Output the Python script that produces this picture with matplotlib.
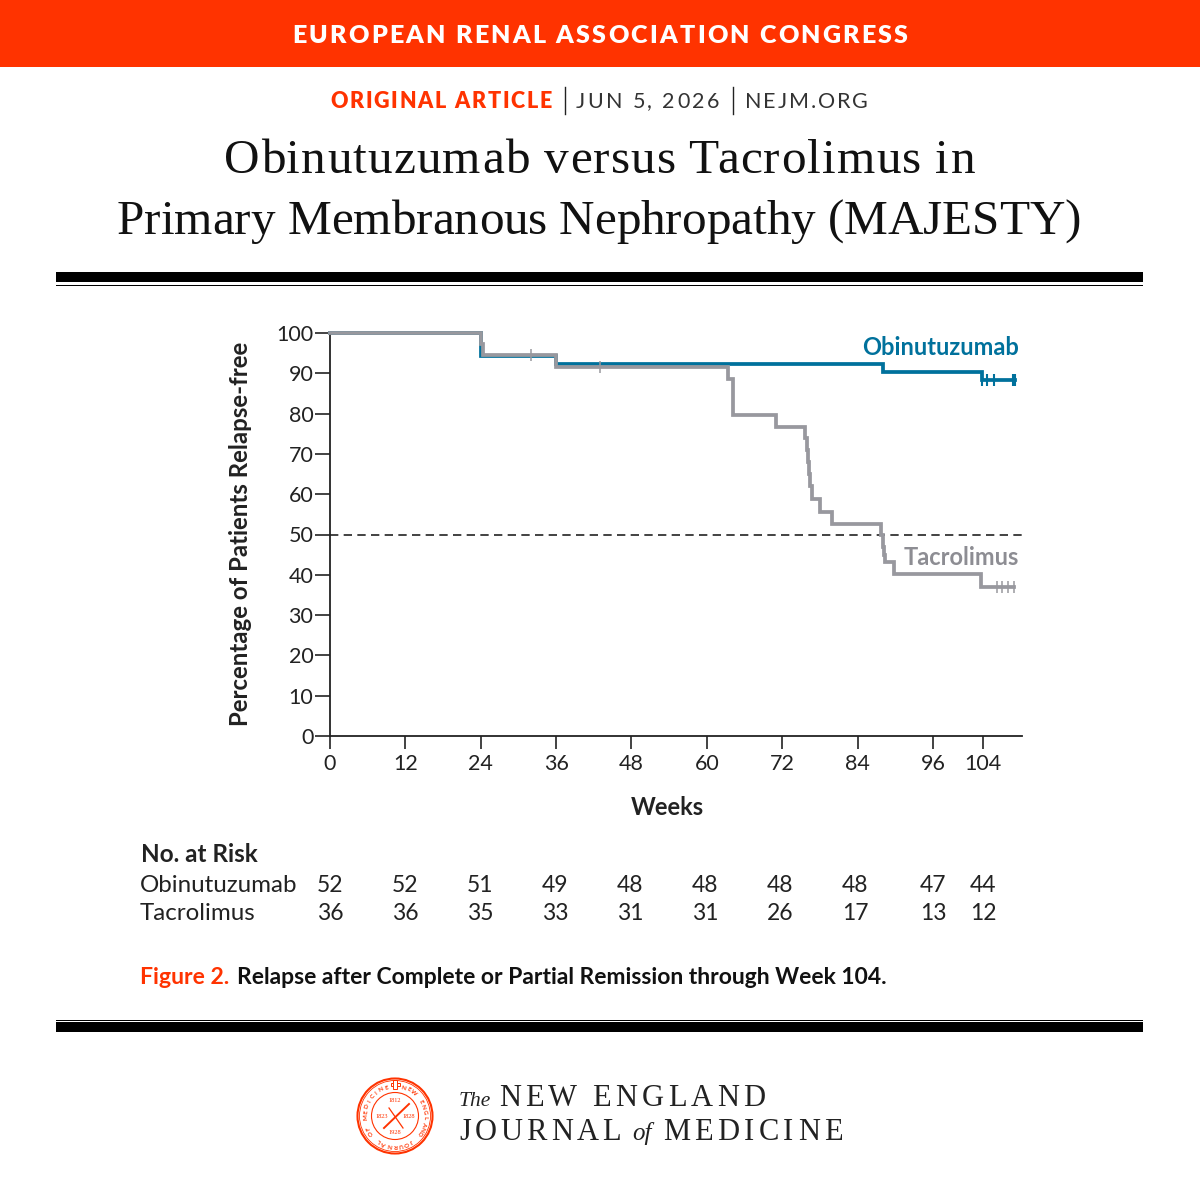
import numpy as np
import matplotlib
matplotlib.use("Agg")
import matplotlib.pyplot as plt
from matplotlib.patches import Circle, Rectangle

# step curves: value holds from this week until the next one
obi_weeks = [0, 24, 36, 88, 103.8, 109]
obi_vals = [100, 94.2, 92.2, 90.3, 88.4, 88.4]
obi_cens = [103.9, 104.6, 105.8, 108.7, 109]

tac_weeks = [0, 24, 24.4, 36, 63.3, 64.1, 64.5, 71, 75.7, 75.9, 76.1, 76.3, 76.5, 76.8, 78.1, 80, 87.8,
             88, 88.2, 88.4, 89.8, 103.6, 108.9]
tac_vals = [100, 97.2, 94.5, 91.5, 88.6, 79.6, 79.6, 76.7, 74, 71, 68, 65, 62, 58.8, 55.6, 52.6, 50,
            47, 45, 43.1, 40.1, 37.0, 37.0]
tac_cens = [32, 43, 106.2, 107, 108, 108.9]
tac_cens_y = [94.5, 91.5, 37.0, 37.0, 37.0, 37.0]

x_ticks = [0, 12, 24, 36, 48, 60, 72, 84, 96, 104]
y_ticks = [0, 10, 20, 30, 40, 50, 60, 70, 80, 90, 100]
risk_obi = [52, 52, 51, 49, 48, 48, 48, 48, 47, 44]
risk_tac = [36, 36, 35, 33, 31, 31, 26, 17, 13, 12]

RED = "#ff3300"
BLUE = "#00719c"
GREY = "#98989e"
DARK = "#222222"
SANS = "Lato"
SERIF = "Liberation Serif"

fig = plt.figure(figsize=(12, 12), dpi=100)
bg = fig.add_axes([0, 0, 1, 1])
bg.set_xlim(0, 1200)
bg.set_ylim(1200, 0)
bg.axis("off")


def text_w(s, size, **kw):
    rend = fig.canvas.get_renderer()
    t = bg.text(0, 0, s, fontsize=size, **kw)
    w = t.get_window_extent(rend).width
    t.remove()
    return w


# matplotlib has no letter spacing, so put the characters one by one
# and share out whatever is left between x0 and x1
def spaced(x0, x1, y, s, size, **kw):
    nn = text_w("nn", size, **kw)
    adv = []
    for i, ch in enumerate(s):
        nxt = s[i + 1] if i + 1 < len(s) else ""
        adv.append(text_w("n" + ch + nxt + "n", size, **kw) - text_w("n" + nxt + "n", size, **kw) if nxt
                   else text_w("n" + ch + "n", size, **kw) - nn)
    gap = (x1 - x0 - sum(adv)) / (len(s) - 1)
    x = x0
    for ch, w in zip(s, adv):
        if ch != " ":
            bg.text(x + w / 2, y, ch, fontsize=size, ha="center", va="baseline", **kw)
        x += w + gap


# header
bg.add_patch(Rectangle((0, 0), 1200, 67, color=RED, lw=0))
spaced(292, 908, 43, "EUROPEAN RENAL ASSOCIATION CONGRESS", 18, color="white", family=SANS, weight="heavy")
spaced(330, 552, 108, "ORIGINAL ARTICLE", 15.5, color=RED, family=SANS, weight="heavy")
bg.plot([565, 565], [87, 114], color=DARK, lw=1)
spaced(576, 719, 108, "JUN 5, 2026", 15.5, color="#333333", family=SANS)
bg.plot([733, 733], [87, 114], color=DARK, lw=1)
spaced(745, 868, 108, "NEJM.ORG", 15.5, color="#333333", family=SANS)

spaced(224, 975, 173, "Obinutuzumab versus Tacrolimus in", 35.5, color="#111111", family=SERIF)
spaced(117, 1081, 234, "Primary Membranous Nephropathy (MAJESTY)", 35.5, color="#111111", family=SERIF)

# rules
bg.add_patch(Rectangle((56, 272), 1087, 10, color="black", lw=0))
bg.add_patch(Rectangle((56, 284.5), 1087, 1.3, color="black", lw=0))
bg.add_patch(Rectangle((56, 1019.5), 1087, 1.3, color="black", lw=0))
bg.add_patch(Rectangle((56, 1022), 1087, 10, color="black", lw=0))

# km plot
ax = fig.add_axes([330 / 1200, (1200 - 736) / 1200, 692 / 1200, 403 / 1200])
ax.patch.set_alpha(0)
ax.set_xlim(0, 692 / 6.28)
ax.set_ylim(0, 100)
ax.axhline(50, color=DARK, lw=1.2, dashes=(5, 3.2), zorder=1)
ax.step(obi_weeks, obi_vals, where="post", color=BLUE, lw=2.7, zorder=2, clip_on=False, solid_joinstyle="miter")
ax.step(tac_weeks, tac_vals, where="post", color=GREY, lw=2.7, zorder=3, clip_on=False, solid_joinstyle="miter")
ax.plot(obi_cens, [88.4] * len(obi_cens), ls="none", marker="|", ms=9, mew=1.5, color=BLUE, zorder=4)
ax.plot(tac_cens, tac_cens_y, ls="none", marker="|", ms=9, mew=1.1, color=GREY, zorder=4)

for side in ["top", "right"]:
    ax.spines[side].set_visible(False)
for side in ["left", "bottom"]:
    ax.spines[side].set_color(DARK)
    ax.spines[side].set_linewidth(1.3)
ax.spines["left"].set_bounds(0, 100)
ax.set_xticks(x_ticks)
ax.set_yticks(y_ticks)
ax.tick_params(direction="out", length=11, width=1.2, color=DARK, labelsize=15.5, labelcolor=DARK)
for lab in ax.get_xticklabels() + ax.get_yticklabels():
    lab.set_family(SANS)
ax.tick_params(axis="y", pad=1)
ax.tick_params(axis="x", length=9, pad=4)

bg.text(667, 815, "Weeks", fontsize=17, family=SANS, weight="bold", color=DARK, ha="center", va="baseline")
bg.text(241, 534, "Percentage of Patients Relapse-free", fontsize=17.3, family=SANS, weight="bold",
        color=DARK, rotation=90, ha="center", va="center")
bg.text(1019, 355, "Obinutuzumab", fontsize=17, family=SANS, weight="bold", color=BLUE, ha="right", va="baseline")
bg.text(1019, 565, "Tacrolimus", fontsize=17, family=SANS, weight="bold", color="#8d8d93", ha="right", va="baseline")

# risk table
risk_px = [330, 405, 480, 555, 630, 705, 780, 855, 933, 983]
bg.text(141, 862, "No. at Risk", fontsize=17.5, family=SANS, weight="bold", color=DARK)
bg.text(140, 892, "Obinutuzumab", fontsize=17.4, family=SANS, color=DARK)
bg.text(140, 920, "Tacrolimus", fontsize=17.4, family=SANS, color=DARK)
for px, a, b in zip(risk_px, risk_obi, risk_tac):
    bg.text(px, 892, str(a), fontsize=16.5, family=SANS, color=DARK, ha="center")
    bg.text(px, 920, str(b), fontsize=16.5, family=SANS, color=DARK, ha="center")

# caption
bg.text(140, 984, "Figure 2.", fontsize=16.6, family=SANS, weight="bold", color=RED)
bg.text(237, 984, "Relapse after Complete or Partial Remission through Week 104.", fontsize=16.5,
        family=SANS, weight="bold", color="#111111")

# seal
cx, cy = 395, 1116
bg.add_patch(Circle((cx, cy), 37.5, fc="none", ec=RED, lw=1.5))
bg.add_patch(Circle((cx, cy), 35.5, fc="none", ec=RED, lw=0.6))
bg.add_patch(Circle((cx, cy), 23.5, fc="none", ec=RED, lw=0.8))

ring = "NEW ENGLAND JOURNAL OF MEDICINE"
for i, ch in enumerate(ring):
    ang = 17 + i * 326 / (len(ring) - 1)
    a = np.deg2rad(ang)
    bg.text(cx + 29.5 * np.sin(a), cy - 29.5 * np.cos(a), ch, fontsize=4.5, color=RED, family=SANS,
            weight="bold", rotation=-ang, rotation_mode="anchor", ha="center", va="center")
for s, dx, dy in [("1812", 0, -16), ("1823", -13.5, 1), ("1828", 13.5, 1), ("1928", 0, 16)]:
    bg.text(cx + dx, cy + dy, s, fontsize=4.6, color=RED, family=SERIF, ha="center", va="center")
bg.plot([cx - 11, cx + 14], [cy + 12, cy - 12], color=RED, lw=1.4)
bg.plot([cx - 6, cx + 8], [cy - 8, cy + 12], color=RED, lw=0.9)
bg.add_patch(Rectangle((cx - 4.5, cy - 33.5), 9, 3.5, fc="none", ec=RED, lw=0.7))
bg.add_patch(Rectangle((cx - 1.7, cy - 36), 3.4, 8.5, fc="white", ec=RED, lw=0.7))

# wordmark
bg.text(459, 1106, "The", fontsize=15.5, family=SERIF, style="italic", color="#222222")
spaced(499, 765, 1106, "NEW ENGLAND", 22, color="#222222", family=SERIF)
spaced(459, 621, 1140, "JOURNAL", 22, color="#222222", family=SERIF)
bg.text(632, 1140, "of", fontsize=18, family=SERIF, style="italic", color="#222222")
spaced(663, 843, 1140, "MEDICINE", 22, color="#222222", family=SERIF)

fig.savefig("out.png", dpi=100)
